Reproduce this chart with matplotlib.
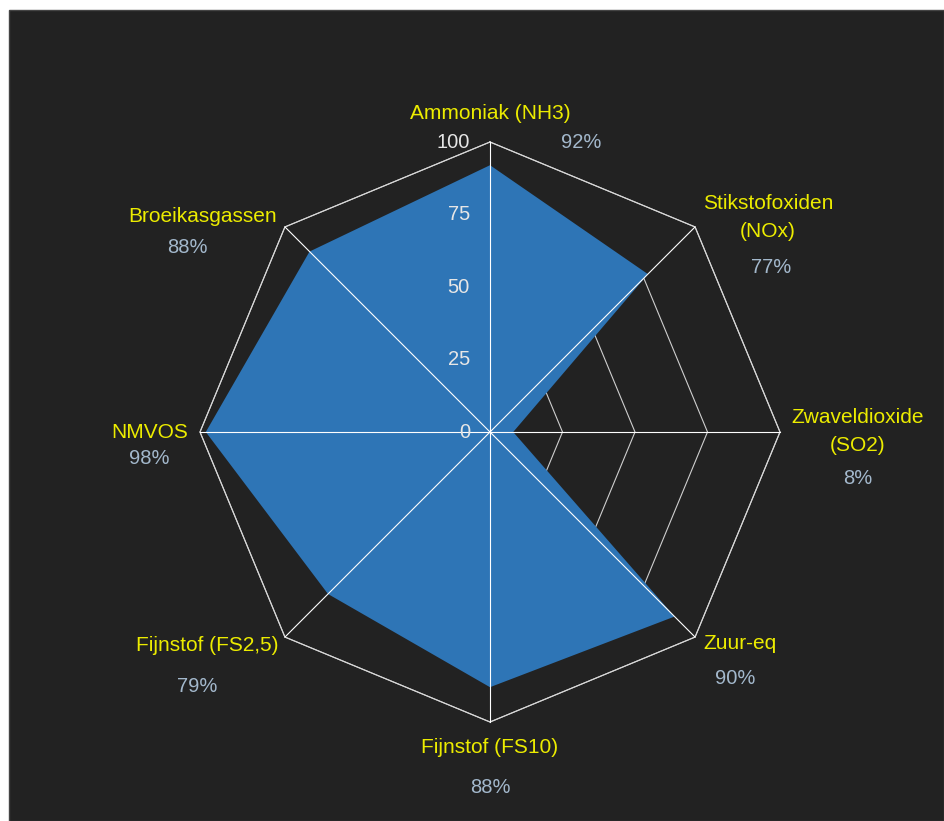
import numpy as np
import matplotlib
matplotlib.use("Agg")
import matplotlib.pyplot as plt
from matplotlib.patches import Rectangle

# data
categories = ["Ammoniak (NH3)", "Stikstofoxiden\n(NOx)", "Zwaveldioxide\n(SO2)", "Zuur-eq",
              "Fijnstof (FS10)", "Fijnstof (FS2,5)", "NMVOS", "Broeikasgassen"]
values = [92, 77, 8, 90, 88, 79, 98, 88]
ticks = [0, 25, 50, 75, 100]

# label offsets (pixels) from the outer vertex
label_off = [(0, 29), (73, 9), (78, 1), (45, -6), (0, -25), (-78, -8), (-50, 0), (-82, 10)]
pct_off = [(91, 0), (76, -41), (78, -46), (40, -41), (0, -65), (-88, -49), (-51, -26), (-98, -21)]

W, H = 944, 821
cx, cy = 490, 389          # centre in pixels (from bottom-left)
scale = 2.9                # pixels per value unit

fig = plt.figure(figsize=(W / 100, H / 100), dpi=100, facecolor="white")
fig.patches.append(Rectangle((9 / W, 0), 1 - 9 / W, 1 - 10 / H, transform=fig.transFigure,
                             facecolor="#222222", edgecolor="#444444", lw=1, zorder=-10))

ax = fig.add_axes([0, 0, 1, 1])
ax.set_xlim(-cx / scale, (W - cx) / scale)
ax.set_ylim(-cy / scale, (H - cy) / scale)
ax.axis("off")

n = len(values)
ang = np.arange(n) * 2 * np.pi / n
sx, sy = np.sin(ang), np.cos(ang)

# polygon rings under the fill
for t in ticks[1:]:
    ax.plot(np.append(sx, sx[0]) * t, np.append(sy, sy[0]) * t, color="#cfcfcf", lw=0.8, zorder=1)

v = np.array(values)
ax.fill(sx * v, sy * v, color="#2e75b6", zorder=2, lw=0)

# outer ring and spokes over the fill
ax.plot(np.append(sx, sx[0]) * 100, np.append(sy, sy[0]) * 100, color="#d8d8d8", lw=0.8, zorder=3)
for x, y in zip(sx, sy):
    ax.plot([0, x * 100], [0, y * 100], color="white", lw=0.8, zorder=3)

font = ["Liberation Sans", "DejaVu Sans"]

for t in ticks:
    ax.annotate(str(t), (0, t), xytext=(-20, 0), textcoords="offset pixels",
                ha="right", va="center", color="#e6e6e6", fontsize=14.5, family=font, zorder=4)

for i in range(n):
    xy = (sx[i] * 100, sy[i] * 100)
    ax.annotate(categories[i], xy, xytext=label_off[i], textcoords="offset pixels",
                ha="center", va="center", color="#ecec00", fontsize=15, family=font,
                linespacing=1.6, zorder=4)
    ax.annotate(f"{values[i]}%", xy, xytext=pct_off[i], textcoords="offset pixels",
                ha="center", va="center", color="#a3b8cc", fontsize=14.5, family=font, zorder=4)

fig.savefig("out.png", dpi=100, facecolor="white")
